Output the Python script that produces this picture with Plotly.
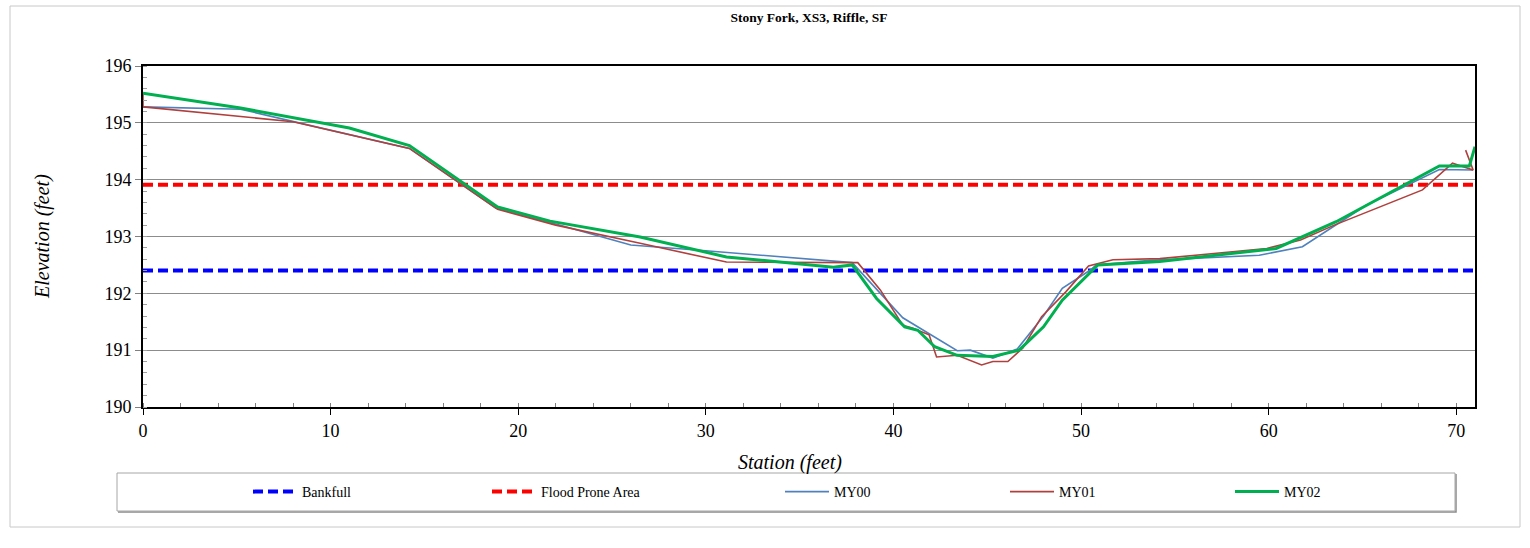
import plotly.graph_objects as go

# ---- data ----
bankfull_elev = 192.4
flood_prone_elev = 193.91
x_extent = [0, 71]

my00_x = [0, 5.2, 14.2, 18.8, 22.0, 26.0, 30.0, 37.8, 40.5, 43.4, 44.1, 45.3, 46.6, 48.0, 49.0, 50.5, 50.8, 53.7, 59.5, 61.8, 65.2, 69.1, 70.9]
my00_y = [195.28, 195.24, 194.55, 193.5, 193.22, 192.85, 192.75, 192.54, 191.57, 190.99, 191.0, 190.86, 191.02, 191.6, 192.09, 192.41, 192.5, 192.58, 192.67, 192.82, 193.55, 194.18, 194.17]

my01_x = [0, 0, 8.0, 14.2, 18.9, 22.0, 26.5, 31.1, 38.1, 39.3, 40.5, 41.0, 41.9, 42.3, 43.4, 44.7, 45.3, 46.1, 46.9, 47.9, 49.2, 50.4, 51.7, 54.2, 59.9, 61.7, 63.5, 68.2, 69.8, 70.9, 70.5]
my01_y = [195.52, 195.28, 195.02, 194.55, 193.48, 193.2, 192.88, 192.55, 192.54, 192.06, 191.44, 191.39, 191.27, 190.88, 190.91, 190.74, 190.8, 190.8, 191.04, 191.59, 192.03, 192.48, 192.59, 192.61, 192.79, 192.94, 193.2, 193.82, 194.29, 194.17, 194.52]

my02_x = [0, 5.2, 11.0, 14.2, 18.9, 21.7, 26.5, 31.1, 36.8, 37.8, 39.1, 40.6, 41.3, 42.2, 43.4, 44.4, 45.3, 46.7, 48.0, 49.0, 50.9, 54.2, 60.4, 63.6, 69.1, 70.7, 71.0]
my02_y = [195.52, 195.26, 194.91, 194.6, 193.52, 193.27, 192.99, 192.64, 192.46, 192.5, 191.91, 191.41, 191.35, 191.06, 190.91, 190.9, 190.89, 191.0, 191.41, 191.88, 192.5, 192.56, 192.79, 193.26, 194.24, 194.24, 194.58]

y_ticks = [190, 191, 192, 193, 194, 195, 196]
x_ticks = [0, 10, 20, 30, 40, 50, 60, 70]

FONT = "Liberation Serif"

fig = go.Figure()

fig.add_trace(go.Scatter(x=x_extent, y=[bankfull_elev] * 2, mode="lines", name="Bankfull",
                         line=dict(color="#0000FF", width=4, dash="10px,5px"), legend="legend"))
fig.add_trace(go.Scatter(x=x_extent, y=[flood_prone_elev] * 2, mode="lines", name="Flood Prone Area",
                         line=dict(color="#FF0000", width=4, dash="10px,5px"), legend="legend2"))
fig.add_trace(go.Scatter(x=my00_x, y=my00_y, mode="lines", name="MY00",
                         line=dict(color="#4F81BD", width=1.6), legend="legend3"))
fig.add_trace(go.Scatter(x=my01_x, y=my01_y, mode="lines", name="MY01",
                         line=dict(color="#B0403D", width=1.6), legend="legend4"))
fig.add_trace(go.Scatter(x=my02_x, y=my02_y, mode="lines", name="MY02",
                         line=dict(color="#00B050", width=3), legend="legend5"))

# geometry helpers (plot area: px 143..1475 horizontally, 66..407 vertically)
L, R, T, B = 143, 1475, 66, 407
def px(xp):
    return (xp - L) / (R - L)
def py(yp):
    return (B - yp) / (B - T)

leg_common = dict(orientation="h", yanchor="middle", xanchor="left", y=py(492),
                  bgcolor="rgba(0,0,0,0)", borderwidth=0, itemwidth=44,
                  font=dict(family=FONT, size=14, color="black"))
legend_starts = [248, 487, 780, 1005, 1230]

fig.update_layout(
    width=1530, height=548,
    margin=dict(l=L, r=1530 - R, t=T, b=548 - B),
    paper_bgcolor="white", plot_bgcolor="white",
    font=dict(family=FONT, color="black"),
    title=dict(text="<b>Stony Fork, XS3, Riffle, SF</b>", x=0.5, xref="paper",
               xanchor="center", y=1 - 17 / 548, yref="container", yanchor="middle",
               font=dict(family=FONT, size=13.5, color="black")),
    legend=dict(leg_common, x=px(legend_starts[0])),
    legend2=dict(leg_common, x=px(legend_starts[1])),
    legend3=dict(leg_common, x=px(legend_starts[2])),
    legend4=dict(leg_common, x=px(legend_starts[3])),
    legend5=dict(leg_common, x=px(legend_starts[4])),
    showlegend=True,
)

fig.update_xaxes(range=[0, 71], tickvals=x_ticks, showgrid=False, zeroline=False,
                 showline=True, linecolor="black", linewidth=2, mirror=True,
                 ticks="outside", ticklen=6, tickcolor="black", tickwidth=1,
                 tickfont=dict(family=FONT, size=18, color="black"),
                 minor=dict(dtick=2, ticks="inside", ticklen=4, tickcolor="#808080", showgrid=False))
fig.update_yaxes(range=[190, 196], tickvals=y_ticks, showgrid=True, gridcolor="#8c8c8c", gridwidth=1,
                 zeroline=False, showline=True, linecolor="black", linewidth=2, mirror=True,
                 ticks="outside", ticklen=6, tickcolor="#808080", tickwidth=1,
                 tickfont=dict(family=FONT, size=18, color="black"),
                 minor=dict(dtick=0.2, ticks="inside", ticklen=4, tickcolor="#a0a0a0", showgrid=False))

# axis titles
fig.add_annotation(text="<i>Station (feet)</i>", xref="paper", yref="paper", x=px(790), y=py(462),
                   xanchor="center", yanchor="middle", showarrow=False,
                   font=dict(family=FONT, size=20, color="black"))
fig.add_annotation(text="<i>Elevation (feet)</i>", xref="paper", yref="paper", x=px(42), y=py(237),
                   xanchor="center", yanchor="middle", showarrow=False, textangle=-90,
                   font=dict(family=FONT, size=20, color="black"))

# legend frame (with soft shadow) and outer chart frame
fig.add_shape(type="path", xref="paper", yref="paper",
              path=f"M {px(118)},{py(512)} L {px(1456)},{py(512)} L {px(1456)},{py(474)}",
              line=dict(color="#8c8c8c", width=1.5), layer="below")
fig.add_shape(type="rect", xref="paper", yref="paper", x0=px(117), x1=px(1455), y0=py(511), y1=py(473),
              line=dict(color="#a6a6a6", width=1), fillcolor="rgba(0,0,0,0)", layer="below")
fig.add_shape(type="rect", xref="paper", yref="paper", x0=px(10), x1=px(1520), y0=py(527), y1=py(6),
              line=dict(color="#c8c8c8", width=1), fillcolor="rgba(0,0,0,0)", layer="below")

fig.write_html("out.html")
